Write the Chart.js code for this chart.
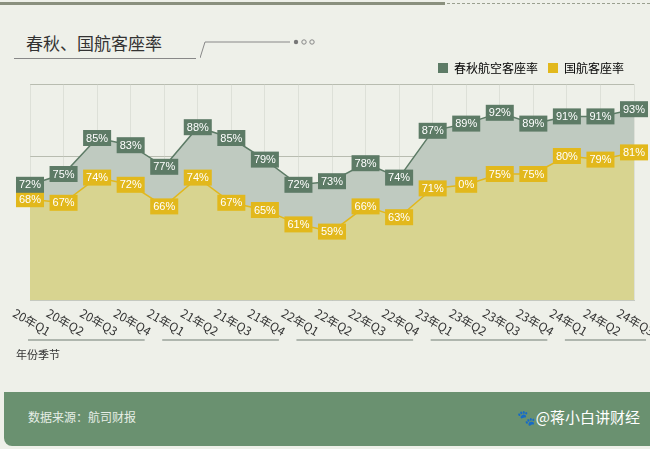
<!DOCTYPE html>
<html>
<head>
<meta charset="utf-8">
<script src="https://cdn.jsdelivr.net/npm/chart.js@4"></script>
<style>
  body { margin: 0; background: #fff; font-family: "Noto Sans CJK SC", "Noto Sans", sans-serif; }
  #wrap { position: relative; width: 650px; height: 449px; background: #eef0e9; overflow: hidden; }
  #topline { position: absolute; left: 0; top: 2px; width: 445px; height: 3px; background: #8a907e; }
  #topdash { position: absolute; left: 447px; top: 3px; width: 203px; border-top: 1px dashed #9aa090; }
  #title { position: absolute; left: 26px; top: 30px; font-size: 17px; color: #333; }
  #titleline { position: absolute; left: 14px; top: 58px; width: 182px; border-top: 1px solid #888; }
  #diag { position: absolute; left: 200px; top: 40px; width: 90px; height: 20px; }
  #unit { position: absolute; left: 16px; top: 346px; font-size: 11px; color: #333; }
  #foot { position: absolute; left: 4px; top: 392px; width: 650px; height: 54px; background: #6a9170; border-radius: 0 0 0 8px; }
  #src { position: absolute; left: 24px; top: 16px; font-size: 12px; color: #e6eee6; }
  #mark { position: absolute; right: 14px; top: 14px; font-size: 15px; color: #fff; }
  canvas { position: absolute; left: 0; top: 0; }
</style>
</head>
<body>
<div id="wrap">
  <div id="topline"></div><div id="topdash"></div>
  <div id="title">春秋、国航客座率</div>
  <div id="titleline"></div>
  <svg id="diag" viewBox="0 0 90 20"><polyline points="0,18 5,2 92,2" fill="none" stroke="#888" stroke-width="1"/></svg>
  <svg style="position:absolute;left:292px;top:38px" width="30" height="8"><circle cx="4" cy="4" r="2.2" fill="#777"/><circle cx="12" cy="4" r="2.2" fill="none" stroke="#888"/><circle cx="20" cy="4" r="2.2" fill="none" stroke="#888"/></svg>
  <canvas id="myChart" width="650" height="449"></canvas>
  <div id="unit">年份季节</div>
  <div id="foot"><div id="src">数据来源：航司财报</div><div id="mark">🐾@蒋小白讲财经</div></div>
</div>
<script>
const categories = ['20年Q1','20年Q2','20年Q3','20年Q4','21年Q1','21年Q2','21年Q3','21年Q4',
  '22年Q1','22年Q2','22年Q3','22年Q4','23年Q1','23年Q2','23年Q3','23年Q4','24年Q1','24年Q2','24年Q3'];
const springValues = [72, 75, 85, 83, 77, 88, 85, 79, 72, 73, 78, 74, 87, 89, 92, 89, 91, 91, 93];
const airChinaValues = [68, 67, 74, 72, 66, 74, 67, 65, 61, 59, 66, 63, 71, 72, 75, 75, 80, 79, 81];
// the picture prints "0%" on the 23Q2 air china point
const airChinaLabels = ['68%','67%','74%','72%','66%','74%','67%','65%','61%','59%','66%','63%','71%','0%','75%','75%','80%','79%','81%'];
const springLabels = springValues.map(v => v + '%');

const green = '#5d7b66';
const yellow = '#e2b81c';

// Boxed value labels
const boxLabels = {
  id: 'boxLabels',
  afterDatasetsDraw(chart) {
    const ctx = chart.ctx;
    ctx.save();
    ctx.font = '11px "Liberation Sans Narrow", "Liberation Sans", sans-serif';
    ctx.textAlign = 'center';
    ctx.textBaseline = 'middle';
    [[1, airChinaLabels, yellow], [0, springLabels, green]].forEach(([di, labels, col]) => {
      chart.getDatasetMeta(di).data.forEach((pt, i) => {
        const t = labels[i];
        const w = ctx.measureText(t).width + 6;
        let x = Math.min(Math.max(pt.x, 14), 636);
        ctx.fillStyle = col;
        ctx.fillRect(x - w / 2, pt.y - 8, w, 16);
        ctx.fillStyle = '#fff';
        ctx.fillText(t, x, pt.y + 0.5);
      });
    });
    ctx.restore();
  }
};

// Slanted category labels and year underlines
const slantTicks = {
  id: 'slantTicks',
  afterDraw(chart) {
    const ctx = chart.ctx;
    const xs = chart.scales.x;
    const bottom = chart.chartArea.bottom;
    ctx.save();
    ctx.font = '12px "Noto Sans CJK SC", sans-serif';
    ctx.fillStyle = '#333';
    ctx.textBaseline = 'middle';
    categories.forEach((c, i) => {
      const x = xs.getPixelForValue(i);
      ctx.save();
      ctx.translate(x - 16, bottom + 12);
      ctx.rotate(Math.PI / 6);
      ctx.fillText(c, 0, 0);
      ctx.restore();
    });
    ctx.strokeStyle = '#9aa39a';
    ctx.lineWidth = 1.5;
    for (let g = 0; g < 5; g++) {
      const a = xs.getPixelForValue(g * 4) - 2;
      const b = Math.min(xs.getPixelForValue(Math.min(g * 4 + 3, 18)) + 14, 646);
      ctx.beginPath();
      ctx.moveTo(a, bottom + 40);
      ctx.lineTo(b, bottom + 40);
      ctx.stroke();
    }
    ctx.restore();
  }
};

const data = {
  labels: categories,
  datasets: [{
    label: '春秋航空客座率',
    data: springValues,
    borderColor: green,
    backgroundColor: '#bfcac0',
    borderWidth: 1.5,
    fill: 'origin',
    pointRadius: 0,
    tension: 0,
    order: 1
  }, {
    label: '国航客座率',
    data: airChinaValues,
    borderColor: yellow,
    backgroundColor: '#d8d490',
    borderWidth: 1.5,
    fill: 'origin',
    pointRadius: 0,
    tension: 0,
    order: 0
  }]
};

const config = {
  type: 'line',
  data,
  plugins: [boxLabels, slantTicks],
  options: {
    responsive: false,
    animation: false,
    layout: { padding: { left: 30, right: 16, top: 52, bottom: 149 } },
    plugins: {
      legend: {
        position: 'top',
        align: 'end',
        labels: {
          boxWidth: 10, boxHeight: 10, color: '#333',
          font: { size: 12, family: '"Noto Sans CJK SC"' },
          generateLabels: () => [
            { text: '春秋航空客座率', fillStyle: green, strokeStyle: green, lineWidth: 0 },
            { text: '国航客座率', fillStyle: yellow, strokeStyle: yellow, lineWidth: 0 }
          ]
        }
      },
      tooltip: { enabled: false }
    },
    scales: {
      y: {
        min: 40, max: 100,
        ticks: { display: false, stepSize: 20 },
        border: { display: false },
        grid: { color: '#b8bcb0', borderDash: [4, 4], drawTicks: false }
      },
      x: {
        offset: false,
        ticks: { display: false },
        border: { display: true, color: '#c5c9c0' },
        grid: { color: 'rgba(200,204,195,0.45)', borderDash: [4, 4], drawTicks: false }
      }
    }
  }
};

const myChart = new Chart(document.getElementById('myChart'), config);
</script>
</body>
</html>
